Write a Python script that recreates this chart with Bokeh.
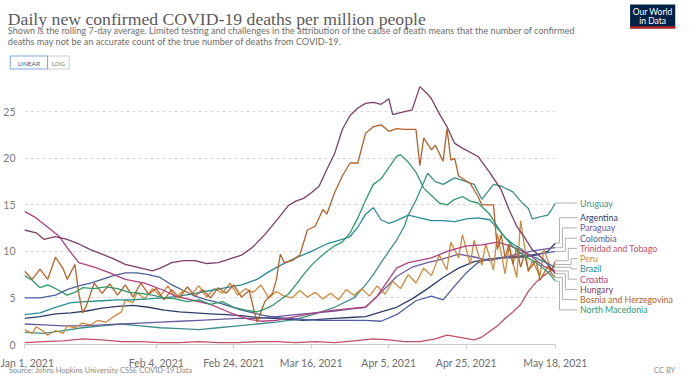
from datetime import date
from bokeh.plotting import figure
from bokeh.models import Range1d, FixedTicker, ColumnDataSource
from bokeh.core.properties import value
from bokeh.embed import file_html
from bokeh.resources import INLINE

# ---------------- data ----------------
START = date(2021, 1, 1)
TICK_DATES = [date(2021, 1, 1), date(2021, 2, 4), date(2021, 2, 24), date(2021, 3, 16),
              date(2021, 4, 5), date(2021, 4, 25), date(2021, 5, 18)]
TICK_LABELS = ["Jan 1, 2021", "Feb 4, 2021", "Feb 24, 2021", "Mar 16, 2021",
               "Apr 5, 2021", "Apr 25, 2021", "May 18, 2021"]
Y_TICKS = [0, 5, 10, 15, 20, 25]

# (days since Jan 1 2021, deaths per million)
HUNGARY = [(0, 12.3), (3, 12.0), (5, 11.3), (8, 11.6), (11, 11.3), (14, 10.8), (17, 10.2), (20, 9.7),
           (23, 9.2), (26, 8.6), (29, 8.3), (33, 7.9), (35, 8.2), (38, 8.8), (41, 9.0), (44, 9.0),
           (47, 8.7), (50, 8.8), (53, 9.2), (56, 9.6), (59, 10.5), (62, 11.8), (65, 13.3), (68, 14.9),
           (70, 15.4), (72, 15.7), (74, 16.3), (76, 17.0), (78, 18.8), (80, 20.5), (82, 23.1),
           (84, 24.6), (86, 25.4), (88, 25.9), (90, 26.0), (92, 25.8), (94, 26.4), (95, 24.7),
           (97, 24.9), (100, 25.2), (102, 27.7), (104, 26.9), (105, 26.4), (107, 24.8), (109, 23.4),
           (111, 21.6), (113, 21.1), (117, 20.2), (120, 18.5), (123, 16.6), (125, 14.5), (127, 12.7),
           (129, 11.5), (131, 10.2), (134, 9.1), (137, 7.6)]
BOSNIA = [(0, 7.9), (2, 7.0), (4, 8.1), (6, 7.0), (8, 9.4), (10, 8.1), (11, 7.0), (13, 8.6), (14, 5.5),
          (15, 3.4), (16, 4.2), (18, 6.6), (20, 5.5), (22, 6.5), (24, 5.3), (26, 6.4), (28, 5.1),
          (30, 6.6), (32, 5.4), (34, 6.0), (36, 4.8), (38, 5.9), (40, 5.0), (42, 6.2), (44, 5.2),
          (46, 5.9), (48, 5.0), (50, 6.1), (52, 5.5), (54, 6.4), (56, 5.1), (58, 5.8), (59, 4.0),
          (60, 2.4), (62, 4.6), (64, 5.5), (65, 7.0), (66, 9.7), (67, 8.8), (69, 9.0), (71, 9.6),
          (73, 12.3), (75, 12.7), (77, 14.5), (78, 14.0), (80, 16.3), (82, 18.1), (84, 19.5),
          (86, 19.5), (88, 22.7), (90, 23.4), (92, 23.6), (94, 22.9), (96, 23.2), (98, 23.1),
          (101, 23.1), (102, 19.2), (103, 22.2), (105, 20.9), (106, 21.4), (108, 19.7), (109, 23.2),
          (110, 19.8), (111, 20.0), (112, 18.1), (115, 17.3), (117, 15.9), (118, 15.0), (121, 15.0),
          (122, 10.2), (123, 11.8), (124, 9.3), (125, 10.8), (126, 8.6), (127, 10.4), (128, 8.3),
          (129, 9.7), (130, 8.0), (132, 9.0), (133, 6.9), (135, 8.4), (136, 7.6), (137, 7.2)]
PERU = [(0, 1.6), (2, 1.2), (3, 1.9), (5, 1.4), (6, 1.0), (8, 1.5), (10, 1.2), (11, 2.0), (13, 1.8),
        (15, 2.3), (17, 2.1), (19, 2.6), (21, 2.4), (23, 3.0), (25, 3.5), (26, 4.8), (28, 4.5),
        (29, 5.6), (31, 4.9), (33, 6.0), (35, 5.2), (37, 6.3), (39, 5.0), (41, 5.8), (43, 5.4),
        (45, 6.3), (47, 5.1), (49, 6.0), (51, 5.5), (53, 6.6), (55, 5.3), (57, 6.0), (59, 5.6),
        (61, 6.4), (63, 5.0), (65, 5.7), (67, 5.2), (69, 5.0), (71, 5.8), (73, 5.1), (75, 5.6),
        (77, 4.9), (79, 5.5), (81, 4.8), (83, 5.9), (85, 5.3), (87, 6.0), (89, 5.2), (91, 6.3),
        (93, 5.4), (95, 6.8), (97, 6.0), (99, 7.5), (101, 6.6), (103, 8.2), (105, 7.4), (107, 9.6),
        (109, 8.0), (110, 11.0), (112, 9.3), (113, 11.8), (115, 8.6), (116, 11.2), (118, 8.5),
        (119, 10.8), (121, 8.0), (122, 11.9), (124, 7.6), (125, 10.5), (127, 7.2), (128, 13.3),
        (130, 7.8), (131, 9.0), (133, 7.4), (134, 10.2), (136, 7.9), (137, 8.6)]
NORTH_MACEDONIA = [(0, 7.4), (2, 6.9), (4, 6.1), (6, 6.4), (9, 5.8), (11, 5.3), (13, 5.6), (15, 6.1),
                   (18, 6.0), (21, 6.2), (24, 6.0), (27, 5.6), (30, 5.5), (33, 5.3), (36, 5.0),
                   (39, 4.9), (42, 4.6), (45, 4.8), (48, 4.3), (51, 4.6), (54, 4.0), (57, 3.7),
                   (60, 3.5), (62, 3.8), (64, 4.2), (66, 4.8), (68, 5.4), (70, 6.4), (72, 7.5),
                   (74, 8.5), (76, 9.3), (78, 10.0), (80, 10.6), (82, 11.0), (84, 12.0), (86, 13.6),
                   (88, 15.5), (90, 17.2), (92, 17.8), (94, 19.0), (96, 20.2), (97, 20.4), (99, 19.6),
                   (101, 18.5), (103, 16.8), (105, 16.0), (107, 15.2), (109, 15.0), (111, 15.6),
                   (113, 15.9), (115, 15.4), (117, 15.2), (120, 14.0), (123, 12.0), (126, 10.5),
                   (129, 9.5), (132, 8.8), (135, 7.8), (137, 6.8)]
BRAZIL = [(0, 3.2), (4, 3.4), (8, 4.0), (12, 4.5), (16, 4.6), (20, 4.7), (24, 4.8), (28, 4.8),
          (32, 4.9), (36, 5.0), (40, 5.2), (44, 5.5), (48, 5.8), (52, 6.1), (56, 6.4), (60, 7.0),
          (63, 7.8), (66, 8.5), (70, 9.3), (74, 10.0), (78, 10.8), (82, 11.3), (84, 11.6), (86, 12.6),
          (88, 14.0), (90, 14.7), (92, 13.4), (94, 13.0), (96, 13.3), (99, 13.9), (102, 13.6),
          (105, 13.3), (108, 13.3), (111, 13.2), (114, 13.5), (117, 13.6), (120, 13.4), (122, 12.5),
          (124, 11.5), (126, 10.8), (128, 10.3), (130, 9.6), (132, 9.3), (134, 8.9), (137, 8.3)]
URUGUAY = [(0, 1.3), (5, 1.2), (10, 1.5), (15, 1.8), (20, 2.0), (25, 2.2), (30, 2.0), (35, 1.8),
           (40, 1.7), (45, 1.6), (50, 1.8), (55, 2.0), (60, 2.2), (65, 2.4), (70, 2.7), (75, 3.3),
           (80, 4.0), (85, 5.0), (88, 6.4), (90, 7.5), (92, 8.8), (94, 10.0), (96, 11.2), (98, 12.7),
           (99, 13.9), (101, 15.5), (103, 17.4), (104, 18.4), (106, 17.5), (108, 17.2), (111, 17.9),
           (114, 17.5), (116, 17.2), (118, 15.6), (121, 17.2), (123, 17.0), (126, 16.4), (128, 15.4),
           (130, 14.6), (131, 13.5), (133, 13.7), (135, 13.9), (136, 14.5), (137, 15.2)]
ARGENTINA = [(0, 2.8), (4, 3.0), (8, 3.3), (12, 3.4), (16, 3.6), (20, 3.9), (24, 4.1), (28, 4.2),
             (32, 4.0), (36, 3.7), (40, 3.5), (44, 3.4), (48, 3.3), (52, 3.2), (56, 3.1), (60, 2.9),
             (64, 2.8), (68, 2.7), (72, 2.6), (76, 2.7), (80, 2.8), (84, 2.9), (88, 3.0), (92, 3.5),
             (96, 4.0), (100, 4.9), (104, 6.0), (108, 7.2), (112, 8.2), (116, 8.9), (120, 9.2),
             (124, 9.3), (128, 9.4), (132, 9.6), (135, 10.0), (137, 10.9)]
PARAGUAY = [(0, 2.2), (5, 2.1), (10, 2.0), (15, 2.0), (20, 2.1), (25, 2.2), (30, 2.3), (35, 2.4),
            (40, 2.5), (45, 2.6), (50, 2.7), (55, 2.8), (60, 2.8), (65, 3.0), (70, 3.2), (75, 3.4),
            (80, 3.6), (84, 3.8), (88, 4.0), (92, 5.6), (96, 7.3), (100, 8.3), (104, 8.8), (108, 9.2),
            (112, 9.7), (116, 9.4), (120, 9.0), (124, 9.4), (128, 9.8), (132, 10.1), (135, 10.3),
            (137, 10.4)]
COLOMBIA = [(0, 5.0), (4, 5.0), (8, 5.3), (11, 5.9), (14, 6.3), (17, 6.6), (20, 7.0), (23, 7.4),
            (26, 7.7), (29, 7.7), (32, 7.5), (35, 7.2), (38, 6.4), (41, 5.8), (44, 5.2), (47, 4.8),
            (50, 4.5), (53, 4.1), (56, 3.7), (59, 3.4), (62, 3.1), (65, 2.9), (68, 2.8), (72, 2.7),
            (76, 2.6), (80, 2.6), (84, 2.6), (88, 2.6), (92, 2.5), (96, 3.2), (101, 4.7), (105, 5.2),
            (108, 4.8), (111, 6.3), (114, 7.7), (117, 8.8), (120, 9.2), (125, 9.4), (130, 9.6),
            (134, 9.8), (137, 10.0)]
CROATIA = [(0, 14.3), (3, 13.6), (6, 12.6), (9, 11.6), (11, 10.4), (14, 8.8), (18, 8.3), (22, 7.7),
           (26, 7.0), (31, 6.6), (36, 5.8), (39, 5.2), (44, 4.7), (48, 4.3), (52, 3.6), (55, 3.1),
           (58, 2.7), (61, 2.5), (65, 2.6), (70, 3.0), (75, 3.4), (80, 3.7), (85, 3.9), (88, 4.0),
           (91, 5.2), (93, 6.4), (96, 8.2), (99, 8.8), (105, 9.3), (109, 10.0), (114, 10.6),
           (118, 10.7), (122, 11.0), (126, 10.5), (130, 9.7), (134, 8.4), (137, 7.9)]
TRINIDAD = [(0, 0.2), (5, 0.3), (10, 0.4), (15, 0.6), (20, 0.5), (25, 0.3), (30, 0.3), (35, 0.2),
            (40, 0.2), (45, 0.3), (50, 0.2), (55, 0.2), (60, 0.3), (65, 0.3), (70, 0.2), (75, 0.3),
            (80, 0.2), (85, 0.4), (90, 0.6), (94, 0.5), (98, 0.3), (102, 0.3), (106, 0.6), (109, 1.0),
            (112, 0.8), (116, 0.5), (118, 0.8), (120, 1.4), (122, 2.0), (124, 2.8), (126, 3.5),
            (128, 4.3), (130, 5.7), (132, 6.7), (134, 7.4), (136, 8.0), (137, 9.0)]

SERIES = [
    ("Uruguay", URUGUAY, "#3f8f88"),
    ("Argentina", ARGENTINA, "#2f3d6b"),
    ("Paraguay", PARAGUAY, "#6a5a9c"),
    ("Colombia", COLOMBIA, "#4c5e9c"),
    ("Trinidad and Tobago", TRINIDAD, "#c15065"),
    ("Peru", PERU, "#d08a3c"),
    ("Brazil", BRAZIL, "#2a8c96"),
    ("Croatia", CROATIA, "#b0407e"),
    ("Hungary", HUNGARY, "#7c4065"),
    ("Bosnia and Herzegovina", BOSNIA, "#b5622a"),
    ("North Macedonia", NORTH_MACEDONIA, "#2f9a6a"),
]

TITLE = "Daily new confirmed COVID-19 deaths per million people"
SUB1 = ("Shown is the rolling 7-day average. Limited testing and challenges in the attribution of the cause "
        "of death means that the number of confirmed")
SUB2 = "deaths may not be an accurate count of the true number of deaths from COVID-19."
SOURCE = "Source: Johns Hopkins University CSSE COVID-19 Data"

# ---------------- layout ----------------
W, H = 680, 376
X_END = (TICK_DATES[-1] - START).days
FRAME_L, FRAME_T, FRAME_W, FRAME_H = 22, 88, 541, 264   # page pixels
Y_END = 28.36


def dx(px):
    return (px - FRAME_L) / FRAME_W * X_END


def dy(py):
    return (FRAME_T + FRAME_H - py) / FRAME_H * Y_END


p = figure(width=W, height=H, output_backend="svg", toolbar_location=None,
           x_range=Range1d(0, X_END), y_range=Range1d(0, Y_END),
           min_border_left=FRAME_L - 8, min_border_right=W - (FRAME_L - 8) - FRAME_W,
           min_border_top=FRAME_T - 8, min_border_bottom=H - (FRAME_T - 8) - FRAME_H)
p.outline_line_color = None
p.background_fill_color = "white"
p.border_fill_color = "white"

tick_days = [(d - START).days for d in TICK_DATES]
xa = p.xaxis[0]
xa.ticker = FixedTicker(ticks=tick_days)
xa.major_label_overrides = {d: lab for d, lab in zip(tick_days, TICK_LABELS)}
xa.axis_line_color = "#cccccc"
xa.major_tick_line_color = "#cccccc"
xa.major_tick_out = 4
xa.major_tick_in = 0
xa.minor_tick_line_color = None
xa.major_label_text_font = "Lato"
xa.major_label_text_font_size = "10.5px"
xa.major_label_text_color = "#6e6e6e"
xa.major_label_standoff = 8

ya = p.yaxis[0]
ya.ticker = FixedTicker(ticks=Y_TICKS)
ya.axis_line_color = None
ya.major_tick_line_color = None
ya.minor_tick_line_color = None
ya.major_label_text_font = "Lato"
ya.major_label_text_font_size = "10.5px"
ya.major_label_text_color = "#7a7a7a"
ya.major_label_standoff = 3

p.xgrid.visible = False
p.ygrid.ticker = FixedTicker(ticks=Y_TICKS[1:])
p.ygrid.grid_line_color = "#d8d8d8"
p.ygrid.grid_line_dash = "3 3"

for name, data, color in SERIES:
    xs = [d for d, v in data]
    ys = [v for d, v in data]
    p.line(xs, ys, line_color=color, line_width=1.3)

# ---------------- end labels ----------------
px_per_unit = FRAME_H / Y_END
gap = 10.25 / px_per_unit
ends = {name: data[-1][1] for name, data, color in SERIES}
cluster = [s for s in SERIES if s[0] != "Uruguay"]
center = sum(ends[s[0]] for s in cluster) / len(cluster)
label_y = {"Uruguay": ends["Uruguay"]}
for i, s in enumerate(cluster):
    label_y[s[0]] = center + ((len(cluster) - 1) / 2 - i) * gap

stairs = [567, 570, 573, 576, 579, 579, 576, 573, 570, 567]
cx, cy = [], []
cx.append([X_END, dx(585)])
cy.append([ends["Uruguay"], ends["Uruguay"]])
for i, s in enumerate(cluster):
    vx = dx(stairs[i])
    cx.append([X_END, vx, vx, dx(585)])
    cy.append([ends[s[0]], ends[s[0]], label_y[s[0]], label_y[s[0]]])
conn = p.multi_line(cx, cy, line_color="#b0b0b0", line_width=1)
conn.level = "overlay"

lab_src = ColumnDataSource(dict(
    x=[dx(588)] * len(SERIES),
    y=[label_y[s[0]] for s in SERIES],
    text=[s[0] for s in SERIES],
    color=[s[2] for s in SERIES],
))
tr = p.text(x="x", y="y", text="text", text_color="color", source=lab_src,
            text_font=value("Lato"), text_font_size="8.8px", text_baseline="middle", text_align="left")
tr.level = "overlay"


# ---------------- header / footer (overlay-level glyphs, outside the frame) ----------------
def put_text(px, py, txt, font, size, color, align="left", baseline="alphabetic"):
    r = p.text(x=[dx(px)], y=[dy(py)], text=[txt], text_font=value(font), text_font_size=size,
               text_color=color, text_align=align, text_baseline=baseline)
    r.level = "overlay"
    return r


def put_box(x0, y0, x1, y1, fill, line=None, lw=1):
    r = p.quad(left=[dx(x0)], right=[dx(x1)], top=[dy(y0)], bottom=[dy(y1)],
               fill_color=fill, line_color=line, line_width=lw)
    r.level = "overlay"
    return r


put_text(5, 26, TITLE, "Liberation Serif", "17.7px", "#5b5b5b")
put_text(5, 37.5, SUB1, "Lato", "9.15px", "#6e6e6e")
put_text(5, 48.5, SUB2, "Lato", "9.15px", "#6e6e6e")

put_box(45.5, 63.5, 67.5, 76.5, "white", "#cccccc")
put_box(7.5, 63.5, 45.5, 76.5, "white", "#7fa8d8")
put_text(26.5, 70.5, "LINEAR", "Lato", "6.5px", "#3b5a80", align="center", baseline="middle")
put_text(56.5, 70.5, "LOG", "Lato", "6.5px", "#777777", align="center", baseline="middle")

put_box(639, 12, 685, 36, "#002147")
put_box(639, 34, 685, 36, "#ce261e")
put_text(662, 19, "Our World", "Lato", "8.5px", "white", align="center", baseline="middle")
put_text(662, 28, "in Data", "Lato", "8.5px", "white", align="center", baseline="middle")

put_text(6, 378, SOURCE, "Lato", "7.5px", "#8a8a8a")
put_text(685, 378, "CC BY", "Lato", "7.5px", "#8a8a8a", align="right")

open("out.html", "w").write(file_html(p, INLINE))
